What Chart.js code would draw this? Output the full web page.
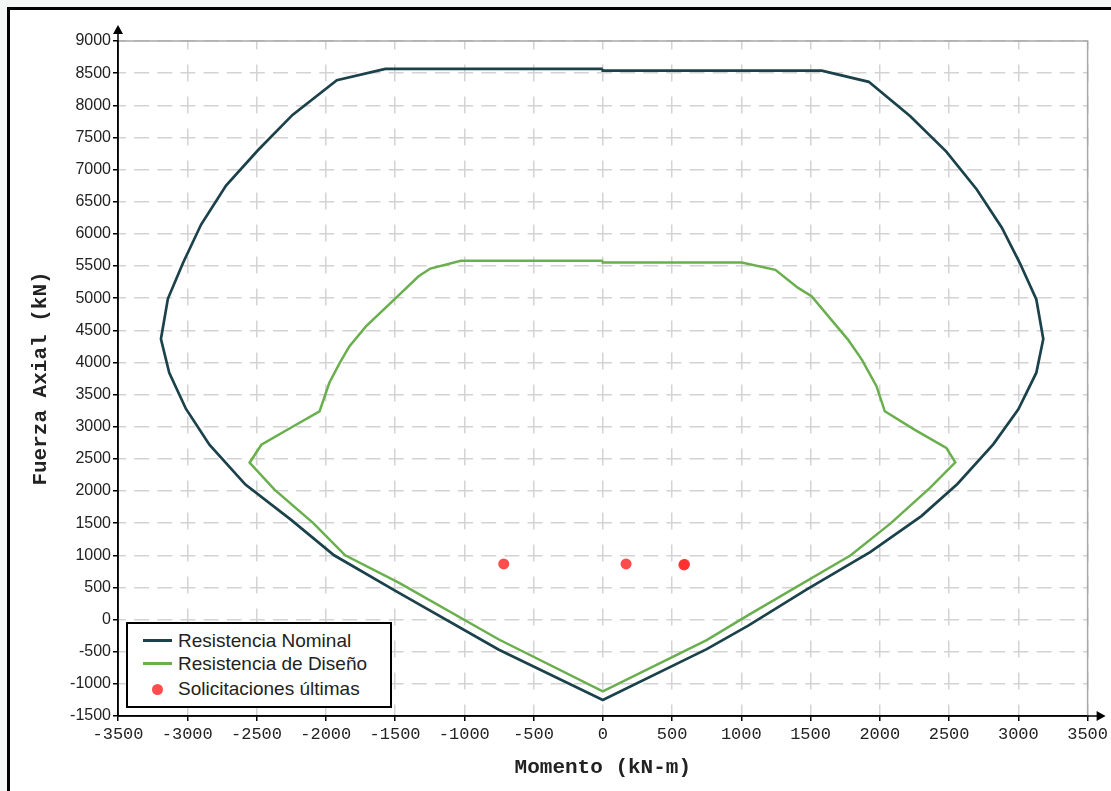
<!DOCTYPE html>
<html lang="es">
<head>
<meta charset="UTF-8">
<title>Diagrama de interacción</title>
<script src="https://cdn.jsdelivr.net/npm/chart.js"></script>
<style>
    body {
        margin: 0;
        background: #f3f7f5;
        width: 1111px;
        height: 791px;
        overflow: hidden;
        position: relative;
    }

    .frame {
        position: absolute;
        left: 7px;
        top: 7px;
        width: 1200px;
        height: 900px;
        border: 3px solid #000;
        background: #fff;
    }

    #chart {
        position: absolute;
        left: 0;
        top: 0;
    }

    .legend {
        position: absolute;
        left: 126px;
        top: 622px;
        width: 262px;
        height: 82px;
        border: 2px solid #000;
        background: #fff;
        font-family: "Liberation Sans", Arial, sans-serif;
        font-size: 19px;
        color: #222;
    }

    .legend .row {
        position: absolute;
        left: 0;
        height: 22px;
        line-height: 22px;
    }

    .legend .sym {
        position: absolute;
        left: 15px;
        top: 9px;
        width: 29px;
        height: 3px;
    }

    .legend .dot {
        position: absolute;
        left: 24px;
        top: 6px;
        width: 11px;
        height: 11px;
        border-radius: 50%;
        background: rgba(255, 45, 45, 0.85);
    }

    .legend .txt {
        position: absolute;
        left: 50px;
        white-space: nowrap;
    }
</style>
</head>
<body>
<div class="frame"></div>
<canvas id="chart" width="1111" height="791"></canvas>

<div class="legend">
    <div class="row" style="top: 6px;"><span class="sym" style="background:#1b424b"></span><span class="txt">Resistencia Nominal</span></div>
    <div class="row" style="top: 29px;"><span class="sym" style="background:#6aaf4d"></span><span class="txt">Resistencia de Diseño</span></div>
    <div class="row" style="top: 54px;"><span class="dot"></span><span class="txt">Solicitaciones últimas</span></div>
</div>

<script>
    // Resistencia nominal (kN-m, kN), contorno cerrado
    const nominalM = [0, -1570, -1920, -2240, -2490, -2720, -2900, -3030, -3140, -3190, -3130, -3010, -2840, -2580, -2250, -1940, -1500, -750, 0,
        750, 1050, 1470, 1930, 2300, 2560, 2820, 3000, 3130, 3180, 3130, 3010, 2880, 2700, 2480, 2220, 1920, 1580, 0, 0];
    const nominalP = [8565, 8565, 8390, 7850, 7300, 6750, 6145, 5550, 4990, 4365, 3840, 3280, 2720, 2100, 1550, 1000, 450, -470, -1250,
        -460, -95, 465, 1050, 1610, 2110, 2730, 3270, 3840, 4365, 4980, 5550, 6100, 6690, 7280, 7830, 8365, 8540, 8540, 8565];

    // Resistencia de diseño
    const disenoM = [0, -1025, -1245, -1330, -1495, -1710, -1830, -1900, -1975, -2045, -2240, -2465, -2550, -2370, -2090, -1860, -1470, -750, 0,
        750, 1050, 1790, 2080, 2360, 2545, 2480, 2250, 2036, 1976, 1870, 1770, 1507, 1410, 1246, 1003, 0, 0];
    const disenoP = [5580, 5580, 5460, 5340, 5000, 4560, 4250, 3990, 3680, 3240, 3000, 2720, 2440, 2020, 1500, 1000, 570, -310, -1115,
        -320, 70, 1000, 1500, 2045, 2445, 2670, 2955, 3240, 3630, 4045, 4355, 5030, 5160, 5440, 5555, 5555, 5580];

    // Solicitaciones últimas
    const solM = [-715, 168, 590, 585];
    const solP = [865, 865, 860, 850];

    const xTicks = { min: -3500, max: 3500, step: 500 };
    const yTicks = { min: -1500, max: 9000, step: 500 };

    const toXY = (xs, ys) => xs.map((x, i) => ({ x: x, y: ys[i] }));

    // bordes gris arriba/derecha y flechas de los ejes
    const axisArrows = {
        id: 'axisArrows',
        afterDraw(chart) {
            const { ctx, chartArea: a } = chart;
            ctx.save();
            ctx.setLineDash([]);
            ctx.strokeStyle = '#a8a8a8';
            ctx.lineWidth = 1.5;
            ctx.beginPath();
            ctx.moveTo(a.left, a.top);
            ctx.lineTo(a.right, a.top);
            ctx.lineTo(a.right, a.bottom);
            ctx.stroke();

            ctx.strokeStyle = '#000';
            ctx.fillStyle = '#000';
            ctx.lineWidth = 1.5;
            ctx.beginPath();
            ctx.moveTo(a.left, a.bottom);
            ctx.lineTo(a.left, a.top - 10);
            ctx.moveTo(a.left, a.bottom);
            ctx.lineTo(a.right + 10, a.bottom);
            ctx.stroke();

            ctx.beginPath();
            ctx.moveTo(a.left, a.top - 16);
            ctx.lineTo(a.left - 5, a.top - 7);
            ctx.lineTo(a.left + 5, a.top - 7);
            ctx.closePath();
            ctx.fill();

            ctx.beginPath();
            ctx.moveTo(a.right + 18, a.bottom);
            ctx.lineTo(a.right + 9, a.bottom - 5);
            ctx.lineTo(a.right + 9, a.bottom + 5);
            ctx.closePath();
            ctx.fill();
            ctx.restore();
        }
    };

    new Chart(document.getElementById('chart'), {
        type: 'scatter',
        data: {
            datasets: [{
                label: 'Solicitaciones últimas',
                data: toXY(solM, solP),
                pointRadius: 5.5,
                pointBackgroundColor: 'rgba(255, 45, 45, 0.85)',
                pointBorderWidth: 0,
                order: 0
            }, {
                label: 'Resistencia de Diseño',
                data: toXY(disenoM, disenoP),
                showLine: true,
                borderColor: '#6aaf4d',
                borderWidth: 2.5,
                pointRadius: 0,
                tension: 0,
                order: 1
            }, {
                label: 'Resistencia Nominal',
                data: toXY(nominalM, nominalP),
                showLine: true,
                borderColor: '#1b424b',
                borderWidth: 2.7,
                pointRadius: 0,
                tension: 0,
                order: 2
            }]
        },
        options: {
            responsive: false,
            animation: false,
            layout: { padding: { top: 41, right: 21, left: 0, bottom: 0 } },
            plugins: {
                legend: { display: false },
                tooltip: { enabled: false }
            },
            scales: {
                x: {
                    type: 'linear',
                    min: xTicks.min,
                    max: xTicks.max,
                    afterFit(scale) { scale.height = 75; },
                    ticks: {
                        stepSize: xTicks.step,
                        color: '#222',
                        padding: 3,
                        font: { family: '"Liberation Mono", "Courier New", monospace', size: 17 },
                        callback: v => String(v)
                    },
                    grid: {
                        color: '#d3d3d3',
                        lineWidth: 1.5,
                        tickColor: '#000',
                        tickLength: 5,
                        tickWidth: 1.5
                    },
                    border: { color: '#000', width: 1.5, dash: [17, 15], dashOffset: 8.5 },
                    title: {
                        display: true,
                        text: 'Momento (kN-m)',
                        color: '#222',
                        padding: { top: 0, bottom: 11 },
                        font: { family: '"Liberation Mono", "Courier New", monospace', size: 21, weight: 'bold' }
                    }
                },
                y: {
                    type: 'linear',
                    min: yTicks.min,
                    max: yTicks.max,
                    afterFit(scale) { scale.width = 118; },
                    ticks: {
                        stepSize: yTicks.step,
                        color: '#222',
                        padding: 2,
                        font: { family: '"Liberation Sans", Arial, sans-serif', size: 16 },
                        callback: v => String(v)
                    },
                    grid: {
                        color: '#d3d3d3',
                        lineWidth: 1.5,
                        tickColor: '#000',
                        tickLength: 5,
                        tickWidth: 1.5
                    },
                    border: { color: '#000', width: 1.5, dash: [15, 8.14], dashOffset: 7.5 },
                    title: {
                        display: true,
                        text: 'Fuerza Axial (kN)',
                        color: '#222',
                        padding: { top: 28, bottom: 0 },
                        font: { family: '"Liberation Mono", "Courier New", monospace', size: 21, weight: 'bold' }
                    }
                }
            }
        },
        plugins: [axisArrows]
    });
</script>
</body>
</html>
